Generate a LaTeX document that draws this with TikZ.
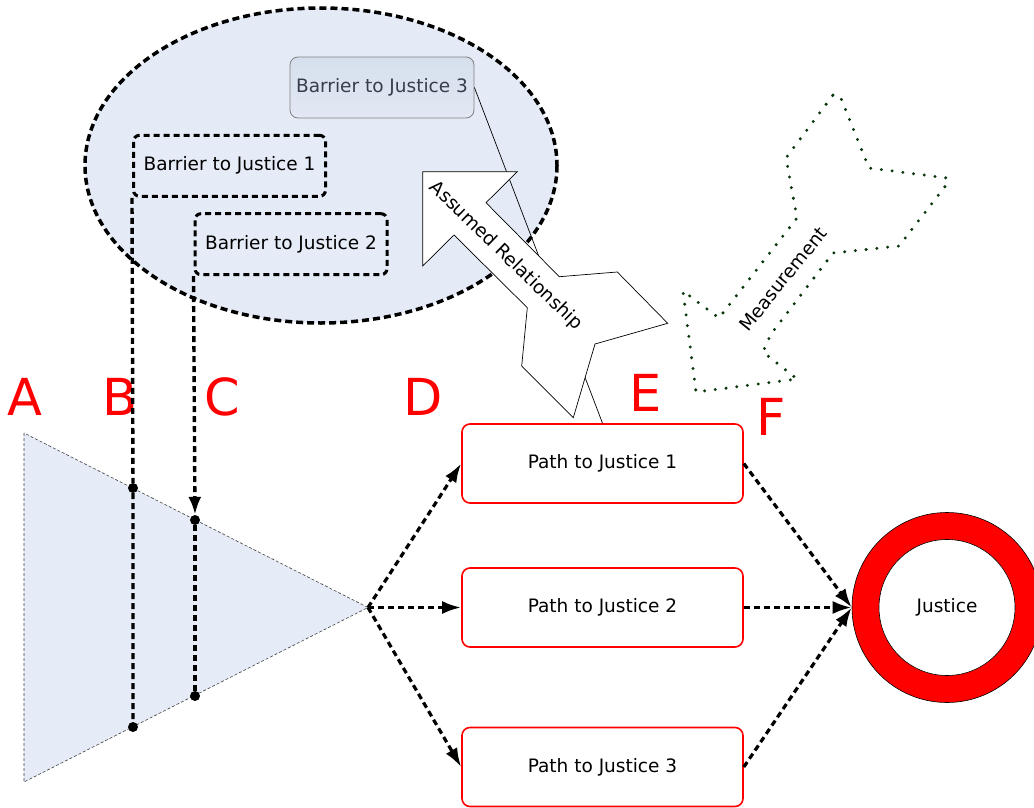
\documentclass[tikz,border=0pt]{standalone}
\usepackage{fontspec}
\setmainfont{DejaVu Sans}
\usetikzlibrary{arrows.meta,calc}
\definecolor{rd}{RGB}{255,0,0}
\definecolor{lb}{RGB}{230,236,247}
\definecolor{ell}{RGB}{228,235,246}
\definecolor{dg}{RGB}{10,55,10}
\definecolor{slate}{RGB}{55,62,75}
\begin{document}
\begin{tikzpicture}[x=1pt,y=-1pt,
  lbl/.style={text=rd,inner sep=0pt,font=\fontsize{51}{51}\selectfont},
  txt/.style={font=\fontsize{18.5}{22}\selectfont},
  barrier/.style={draw=black,line width=3pt,dash pattern=on 6pt off 4pt,rounded corners=6pt,fill=lb,minimum width=192pt,minimum height=61pt,inner sep=0pt,txt},
  barrierthree/.style={draw=gray,line width=0.8pt,rounded corners=8pt,top color={rgb,255:red,214;green,223;blue,237},bottom color={rgb,255:red,226;green,232;blue,243},minimum width=184pt,minimum height=61pt,inner sep=0pt,txt,text=slate},
  pathbox/.style={draw=rd,line width=1.6pt,rounded corners=8pt,fill=white,minimum width=281pt,minimum height=79pt,inner sep=0pt,txt},
  flow/.style={line width=3.2pt,dash pattern=on 6pt off 4pt,-{Latex[length=19pt,width=13pt]}},
  vline/.style={line width=3.4pt,dash pattern=on 6pt off 4pt},
  dot/.style={circle,fill=black,inner sep=0pt,minimum size=10pt},
  bigarrow/.style={draw=black,line width=0.7pt,fill=white},
  measure/.style={draw=dg,line width=3.3pt,dash pattern=on 0pt off 10.8pt,line cap=round},
  thinlink/.style={line width=0.7pt},
]
\useasboundingbox (0,0) rectangle (1034,808);

% ellipse of barriers
\draw[fill=ell,line width=3.5pt,dash pattern=on 7pt off 4pt] (321,165.5) ellipse [x radius=236,y radius=157.5];

\node[barrier] (b1) at (229.5,165.8) {Barrier to Justice 1};
\node[barrier] (b2) at (291,244.2) {Barrier to Justice 2};
\node[barrierthree] (b3) at (382,87.5) {Barrier to Justice 3};

% letters
\node[lbl] (la) at (25,397) {A};
\node[lbl] (lb) at (120,397) {B};
\node[lbl] (lc) at (222,397) {C};
\node[lbl] (ld) at (423,397) {D};
\node[lbl] (le) at (646,393) {E};
\node[lbl] (lf) at (771,417) {F};

% triangle
\coordinate (ta) at (24,433);
\coordinate (tb) at (24,782);
\coordinate (tip) at (368,607.5);
\draw[fill=lb,draw=black!75,line width=0.6pt,dash pattern=on 3pt off 2pt] (ta) -- (tb) -- (tip) -- cycle;

% paths
\node[pathbox] (p1) at (602.5,463.5) {Path to Justice 1};
\node[pathbox] (p2) at (602.5,607.5) {Path to Justice 2};
\node[pathbox] (p3) at (602.5,767) {Path to Justice 3};

% justice ring
\node[circle,draw=black,fill=rd,line width=0.6pt,minimum size=190pt,inner sep=0pt] (just) at (947,607.5) {};
\node[circle,draw=black,fill=white,line width=0.6pt,minimum size=136pt,inner sep=0pt,txt] (justin) at (just.center) {Justice};

% thin link barrier 3 -> path 1
\draw[thinlink] (b3.east) -- (p1.north);

% assumed relationship arrow
\draw[bigarrow] (422.7,171.7) -- (517.3,171.7) -- (486,202.7) -- (559.3,276.7) -- (617.3,272) -- (667.7,323.3) -- (595,344) -- (573.3,417.7) -- (521.7,366) -- (527.3,307.7) -- (454,235) -- (422.7,266) -- cycle;
\node[txt,rotate=-44] (assumed) at (506,256) {Assumed Relationship};

% measurement arrow
\draw[measure] (833,95) -- (840,96) -- (869,168) -- (947,178) -- (947,184) -- (899,246) -- (833,253) -- (771,334) -- (763,352) -- (797,379) -- (696,392) -- (683,291) -- (719,318) -- (797,218) -- (786,158) -- cycle;
\node[txt,rotate=51] (measurement) at (783,279) {Measurement};

% vertical barrier lines
\node[dot] (d1) at (133,488) {};
\node[dot] (d2) at (133,727) {};
\node[dot] (d3) at (195,520) {};
\node[dot] (d4) at (195,696) {};
\draw[vline] (b1.south west) -- (d1) -- (d2);
\draw[vline,-{Latex[length=18pt,width=13pt]}] (b2.south west) -- (d3);
\draw[vline] (d3) -- (d4);

% flows
\draw[flow] (tip) -- (p1.west);
\draw[flow] (tip) -- (p2.west);
\draw[flow] (tip) -- (p3.west);
\draw[flow] (p1.east) -- (just.west);
\draw[flow] (p2.east) -- (just.west);
\draw[flow] (p3.east) -- (just.west);
\end{tikzpicture}
\end{document}
